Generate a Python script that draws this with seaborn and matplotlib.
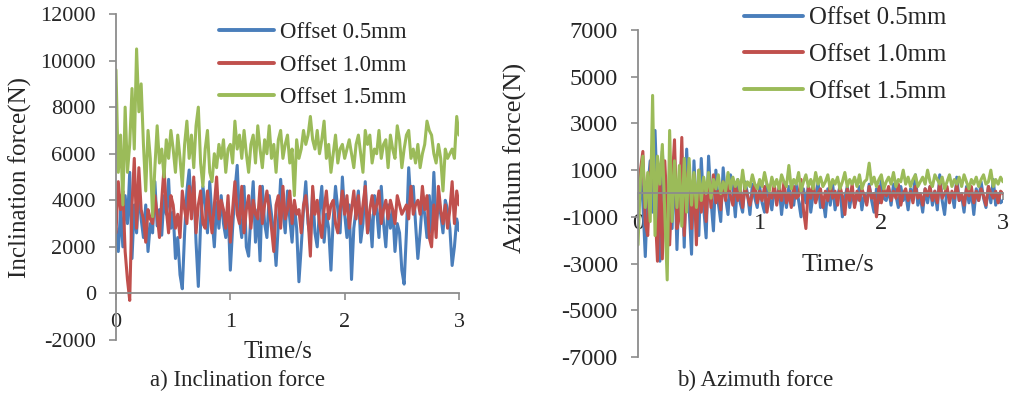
import numpy as np
import pandas as pd
import matplotlib
matplotlib.use("Agg")
import matplotlib.pyplot as plt
import seaborn as sns

# ---------------- data ----------------
time = np.round(np.arange(151) * 0.02, 2)
series_names = ["Offset 0.5mm", "Offset 1.0mm", "Offset 1.5mm"]
colors = ["#4a7ebb", "#c0504d", "#9bbb59"]

incl_05 = [2800, 1800, 3600, 2000, 4200, 3000, 5200, 1500, 3800, 2600,
           4500, 3200, 2400, 3800, 1800, 3000, 2600, 4800, 2900, 3600,
           2500, 4200, 3400, 4900, 2800, 3500, 1500, 2400, 800, 200,
           2600, 4400, 5300, 3600, 4800, 2200, 300, 3000, 4600, 3800,
           2600, 4800, 3200, 2000, 3900, 2800, 4200, 3000, 2400, 3600,
           1000, 2800, 4400, 5500, 3200, 2400, 4600, 2000, 1600, 3400,
           4800, 2200, 3600, 1400, 4600, 3000, 2400, 4200, 3400, 2600,
           1200, 3000, 4900, 3600, 2600, 4400, 3200, 2200, 3800, 2800,
           500, 2000, 3600, 4800, 3000, 2400, 4400, 2600, 2000, 3600,
           4600, 2200, 3400, 2800, 1000, 3200, 4600, 3600, 2600, 5000,
           3400, 2400, 3800, 600, 2800, 3600, 4400, 2200, 3000, 4800,
           2600, 3400, 2000, 4200, 3600, 2400, 4600, 3000, 2000, 3800,
           2800, 3600, 1800, 3000, 2600, 1000, 400, 2600, 5400, 3800,
           4600, 3000, 1500, 2600, 4000, 3400, 2400, 4200, 2600, 5200,
           3000, 3800, 3400, 2600, 4000, 3600, 2800, 1200, 2000, 3200, 2700]
incl_10 = [2600, 4800, 3600, 4400, 1800, 600, -300, 3800, 5800, 2800,
           5400, 3600, 3200, 2200, 3600, 3200, 3000, 4200, 3400, 2400,
           4000, 5400, 3600, 2600, 4200, 3800, 2800, 3400, 2400, 4400,
           3600, 3000, 4600, 3200, 5000, 2600, 3800, 4400, 3000, 2800,
           4400, 3400, 2600, 3800, 5000, 3200, 4000, 3600, 2800, 4200,
           2200, 3600, 4800, 3400, 3000, 4600, 2600, 3600, 4200, 2800,
           4000, 3400, 3200, 4600, 3000, 3800, 4400, 3600, 2800, 1800,
           3800, 4200, 2800, 4600, 3200, 3600, 4400, 3000, 4000, 3400,
           3600, 2600, 3800, 4200, 3200, 1600, 4600, 3400, 4000, 3000,
           2400, 3600, 4400, 3200, 3800, 4000, 3000, 2600, 3600, 4400,
           3400, 4200, 2800, 3600, 4400, 3200, 4200, 3000, 3800, 4600,
           2600, 3600, 4200, 3400, 3800, 4400, 3000, 3600, 4000, 3200,
           4000, 3600, 3000, 4200, 3800, 3400, 3600, 3800, 3200, 4600,
           3400, 3800, 4000, 3400, 4600, 3600, 4200, 2400, 2000, 3800,
           2400, 4600, 3600, 3000, 3800, 2800, 3600, 4800, 3000, 4400, 3800]
incl_15 = [9600, 5200, 6800, 3800, 8000, 5200, 6400, 8800, 6200, 10500,
           7800, 9000, 6400, 4400, 7000, 5800, 3300, 5400, 7200, 5600,
           6200, 5000, 6600, 5800, 7000, 6200, 5200, 6800, 5800, 4600,
           6400, 7400, 5800, 6800, 5400, 7200, 8000, 5600, 4600, 6200,
           7000, 5200, 4800, 6000, 5400, 6400, 5800, 6600, 5200, 6200,
           6400, 5600, 7400, 6200, 6800, 5800, 7000, 6000, 5200, 6400,
           6800, 5600, 7200, 6200, 5400, 6600, 6000, 7200, 5800, 6400,
           5200, 6600, 7000, 5800, 6400, 6800, 5600, 6200, 4200, 6600,
           5800, 6200, 7000, 6400, 6800, 7600, 6600, 6200, 7000, 6000,
           6600, 7400, 5800, 6400, 5200, 6000, 6800, 5600, 6200, 6400,
           5800, 6200, 6600, 6000, 5400, 6400, 6800, 6000, 5200, 7000,
           6400, 6800, 5600, 6200, 6000, 7000, 5800, 6400, 6600, 5400,
           6800, 6200, 5800, 7200, 6600, 5400, 6200, 6800, 7000, 5800,
           6200, 5600, 6400, 5400, 6000, 6400, 7400, 7000, 6800, 6000,
           5600, 6400, 5800, 4400, 6200, 5800, 6000, 6200, 5800, 7600, 6800]

azim_05 = [0, 800, -400, -2700, 200, 1400, -800, 2700, -400, -2900,
           1800, -500, -2800, 1200, -1500, 1600, -2400, 600, 1500, -2300,
           1900, -600, -2600, 1400, -800, -1800, 1500, -600, -1900, 1600,
           -300, -1600, 1000, -400, -1200, 1100, -200, -900, 800, 200,
           -1000, 600, -400, -800, 500, 0, -900, 400, -200, -600,
           300, -400, -800, 400, -200, -700, 200, -300, 300, -900,
           100, -600, 300, -200, -500, 400, -300, -1000, 200, -400,
           300, -800, 0, -300, 500, -600, -200, -1000, 200, -500,
           400, -700, -100, 300, -1000, -200, 300, -600, 100, -500,
           -200, 300, -700, 0, -400, 400, -300, -800, 200, -400,
           600, -200, -300, 200, -500, 400, -100, -600, 300, -300,
           0, -700, 200, -200, 800, -500, -100, -800, 200, -400,
           300, -500, 100, -700, 800, -300, -900, 200, -200, 0,
           -600, 700, -300, -100, -800, 300, -400, 100, -900, 200,
           -300, 500, -200, -600, 300, -400, 600, -500, 0, -400, -300]
azim_10 = [0, 1000, 1800, -1300, -1800, 800, 2100, -600, -2900, 600,
           -2800, 1400, -800, -2200, 400, 2300, -1500, -1000, 2400, -1800,
           600, 1200, -1500, 800, -2200, 1000, -800, 400, -1200, 700,
           -600, 800, -400, 100, -700, 500, -300, 600, -100, -500,
           400, -300, 200, -600, 300, -100, -500, 0, 400, -400,
           100, -300, 300, -800, 0, -200, 400, -500, 200, -300,
           500, -400, 0, -600, 300, -200, -100, 600, -700, -1500,
           300, -200, 500, -400, 0, 200, -600, 100, -300, 400,
           -200, 100, -500, 300, -100, -900, 200, -300, 400, -600,
           100, -300, 200, -100, -500, 300, -200, 0, -1000, 300,
           -400, 200, -100, 300, -300, 100, -200, 400, -500, 0,
           200, -300, 100, -400, 300, -200, 0, -500, 200, -100,
           300, -300, 100, -400, 500, -200, 0, 300, -400, 100,
           -200, 400, -300, 0, -500, 200, -100, 300, -400, 100,
           -300, 200, -100, -500, 300, 0, -200, 100, -400, 100, 0]
azim_15 = [-2200, 600, 1600, -600, 900, -1200, 4200, -1800, 1600, 400,
           2100, -800, -3700, 2700, -1200, 1400, -600, 1200, -1400, 1500,
           -800, 1500, -500, 900, -600, 1000, -300, 700, 0, 900,
           -200, 600, 200, 800, 0, 500, 100, 900, 200, 700,
           300, 600, 100, 1000, 200, 500, 300, 800, 400, 200,
           600, 300, 900, 400, 100, 700, 300, 600, 200, 800,
           500, 300, 1200, 200, 600, 400, 900, 100, 500, 800,
           300, 600, 200, 900, 400, 700, 300, 500, 800, 200,
           600, 400, 700, 200, 500, 900, 300, 600, 400, 700,
           300, 800, 200, 500, 600, 1300, 400, 700, 300, 600,
           800, 200, 500, 700, 400, 900, 300, 600, 500, 1000,
           400, 700, 300, 600, 800, 300, 500, 700, 400, 1000,
           500, 300, 800, 600, 400, 700, 200, 500, 800, 300,
           600, 400, 700, 300, 800, 500, 200, 600, 400, 700,
           300, 600, 800, 400, 500, 1000, 300, 600, 400, 700, 500]

x_ticks = [0, 1, 2, 3]
incl_ticks = list(range(-2000, 12001, 2000))
azim_ticks = list(range(-7000, 7001, 2000))

# ---------------- styling ----------------
sns.set_style("white")
plt.rcParams["font.family"] = ["Liberation Serif", "DejaVu Serif"]
plt.rcParams["axes.unicode_minus"] = False

W, H = 1014, 397
fig = plt.figure(figsize=(W / 100, H / 100), dpi=100)

def px_axes(l, t, r, b):
    return fig.add_axes([l / W, 1 - b / H, (r - l) / W, (b - t) / H])

def long_df(vals):
    return pd.DataFrame({
        "t": np.concatenate([time] * 3),
        "F": np.concatenate([np.asarray(v, float) for v in vals]),
        "s": np.repeat(series_names, len(time)),
    })

def style_axes(ax, yt, fs):
    for s in ["top", "right"]:
        ax.spines[s].set_visible(False)
    ax.spines["left"].set_color("#8c8c8c")
    ax.spines["bottom"].set_color("#8c8c8c")
    ax.spines["bottom"].set_position(("data", 0))
    ax.spines["left"].set_linewidth(1.3)
    ax.spines["bottom"].set_linewidth(1.3)
    ax.set_xlim(0, 3)
    ax.set_xticks(x_ticks)
    ax.set_yticks(yt)
    ax.set_ylim(yt[0], yt[-1])
    ax.set_yticklabels([str(v) for v in yt])
    ax.tick_params(axis="both", direction="out", length=5, width=1.2,
                   color="#8c8c8c", labelsize=fs, left=True, bottom=True)
    ax.tick_params(axis="x", pad=9)
    ax.tick_params(axis="y", pad=9.5)
    ax.set_xlabel("")
    ax.set_ylabel("")

LW = 2.2

# ---- left panel ----
ax1 = px_axes(116, 14, 459, 340)
sns.lineplot(data=long_df([incl_05, incl_10, incl_15]), x="t", y="F", hue="s",
             palette=colors, linewidth=LW, ax=ax1, legend=False)
style_axes(ax1, incl_ticks, 16)
h1 = [plt.Line2D([], [], color=c, lw=2.8) for c in colors]
ax1.legend(h1, series_names, loc="upper left", bbox_to_anchor=(0.275, 1.005),
           frameon=False, fontsize=16.5, handlelength=2.4, handletextpad=0.25,
           labelspacing=0.52, borderaxespad=0)
ax1.set_ylabel("Inclination force(N)", fontsize=18, va="center")
ax1.yaxis.set_label_coords((20 - 116) / 343, 0.5)
fig.text(278 / W, 1 - 352 / H, "Time/s", fontsize=18, ha="center", va="center")
fig.text(237 / W, 1 - 380 / H, "a) Inclination force", fontsize=16.5,
         ha="center", va="center")

# ---- right panel ----
ax2 = px_axes(638, 30, 1003, 357)
sns.lineplot(data=long_df([azim_05, azim_10, azim_15]), x="t", y="F", hue="s",
             palette=colors, linewidth=LW, ax=ax2, legend=False)
style_axes(ax2, azim_ticks, 17.5)
h2 = [plt.Line2D([], [], color=c, lw=2.8) for c in colors]
ax2.legend(h2, series_names, loc="upper left",
           bbox_to_anchor=((743 - 638 - 9) / 365, 1.10),
           frameon=False, fontsize=17.8, handlelength=2.4, handletextpad=0.25,
           labelspacing=0.58, borderaxespad=0)
ax2.set_ylabel("Azithum force(N)", fontsize=19, va="center")
ax2.yaxis.set_label_coords((515 - 638) / 365, (357 - 158) / 327)
fig.text(838 / W, 1 - 265 / H, "Time/s", fontsize=19, ha="center", va="center")
fig.text(755 / W, 1 - 380 / H, "b) Azimuth force", fontsize=16.5,
         ha="center", va="center")

fig.savefig("out.png", dpi=100)
